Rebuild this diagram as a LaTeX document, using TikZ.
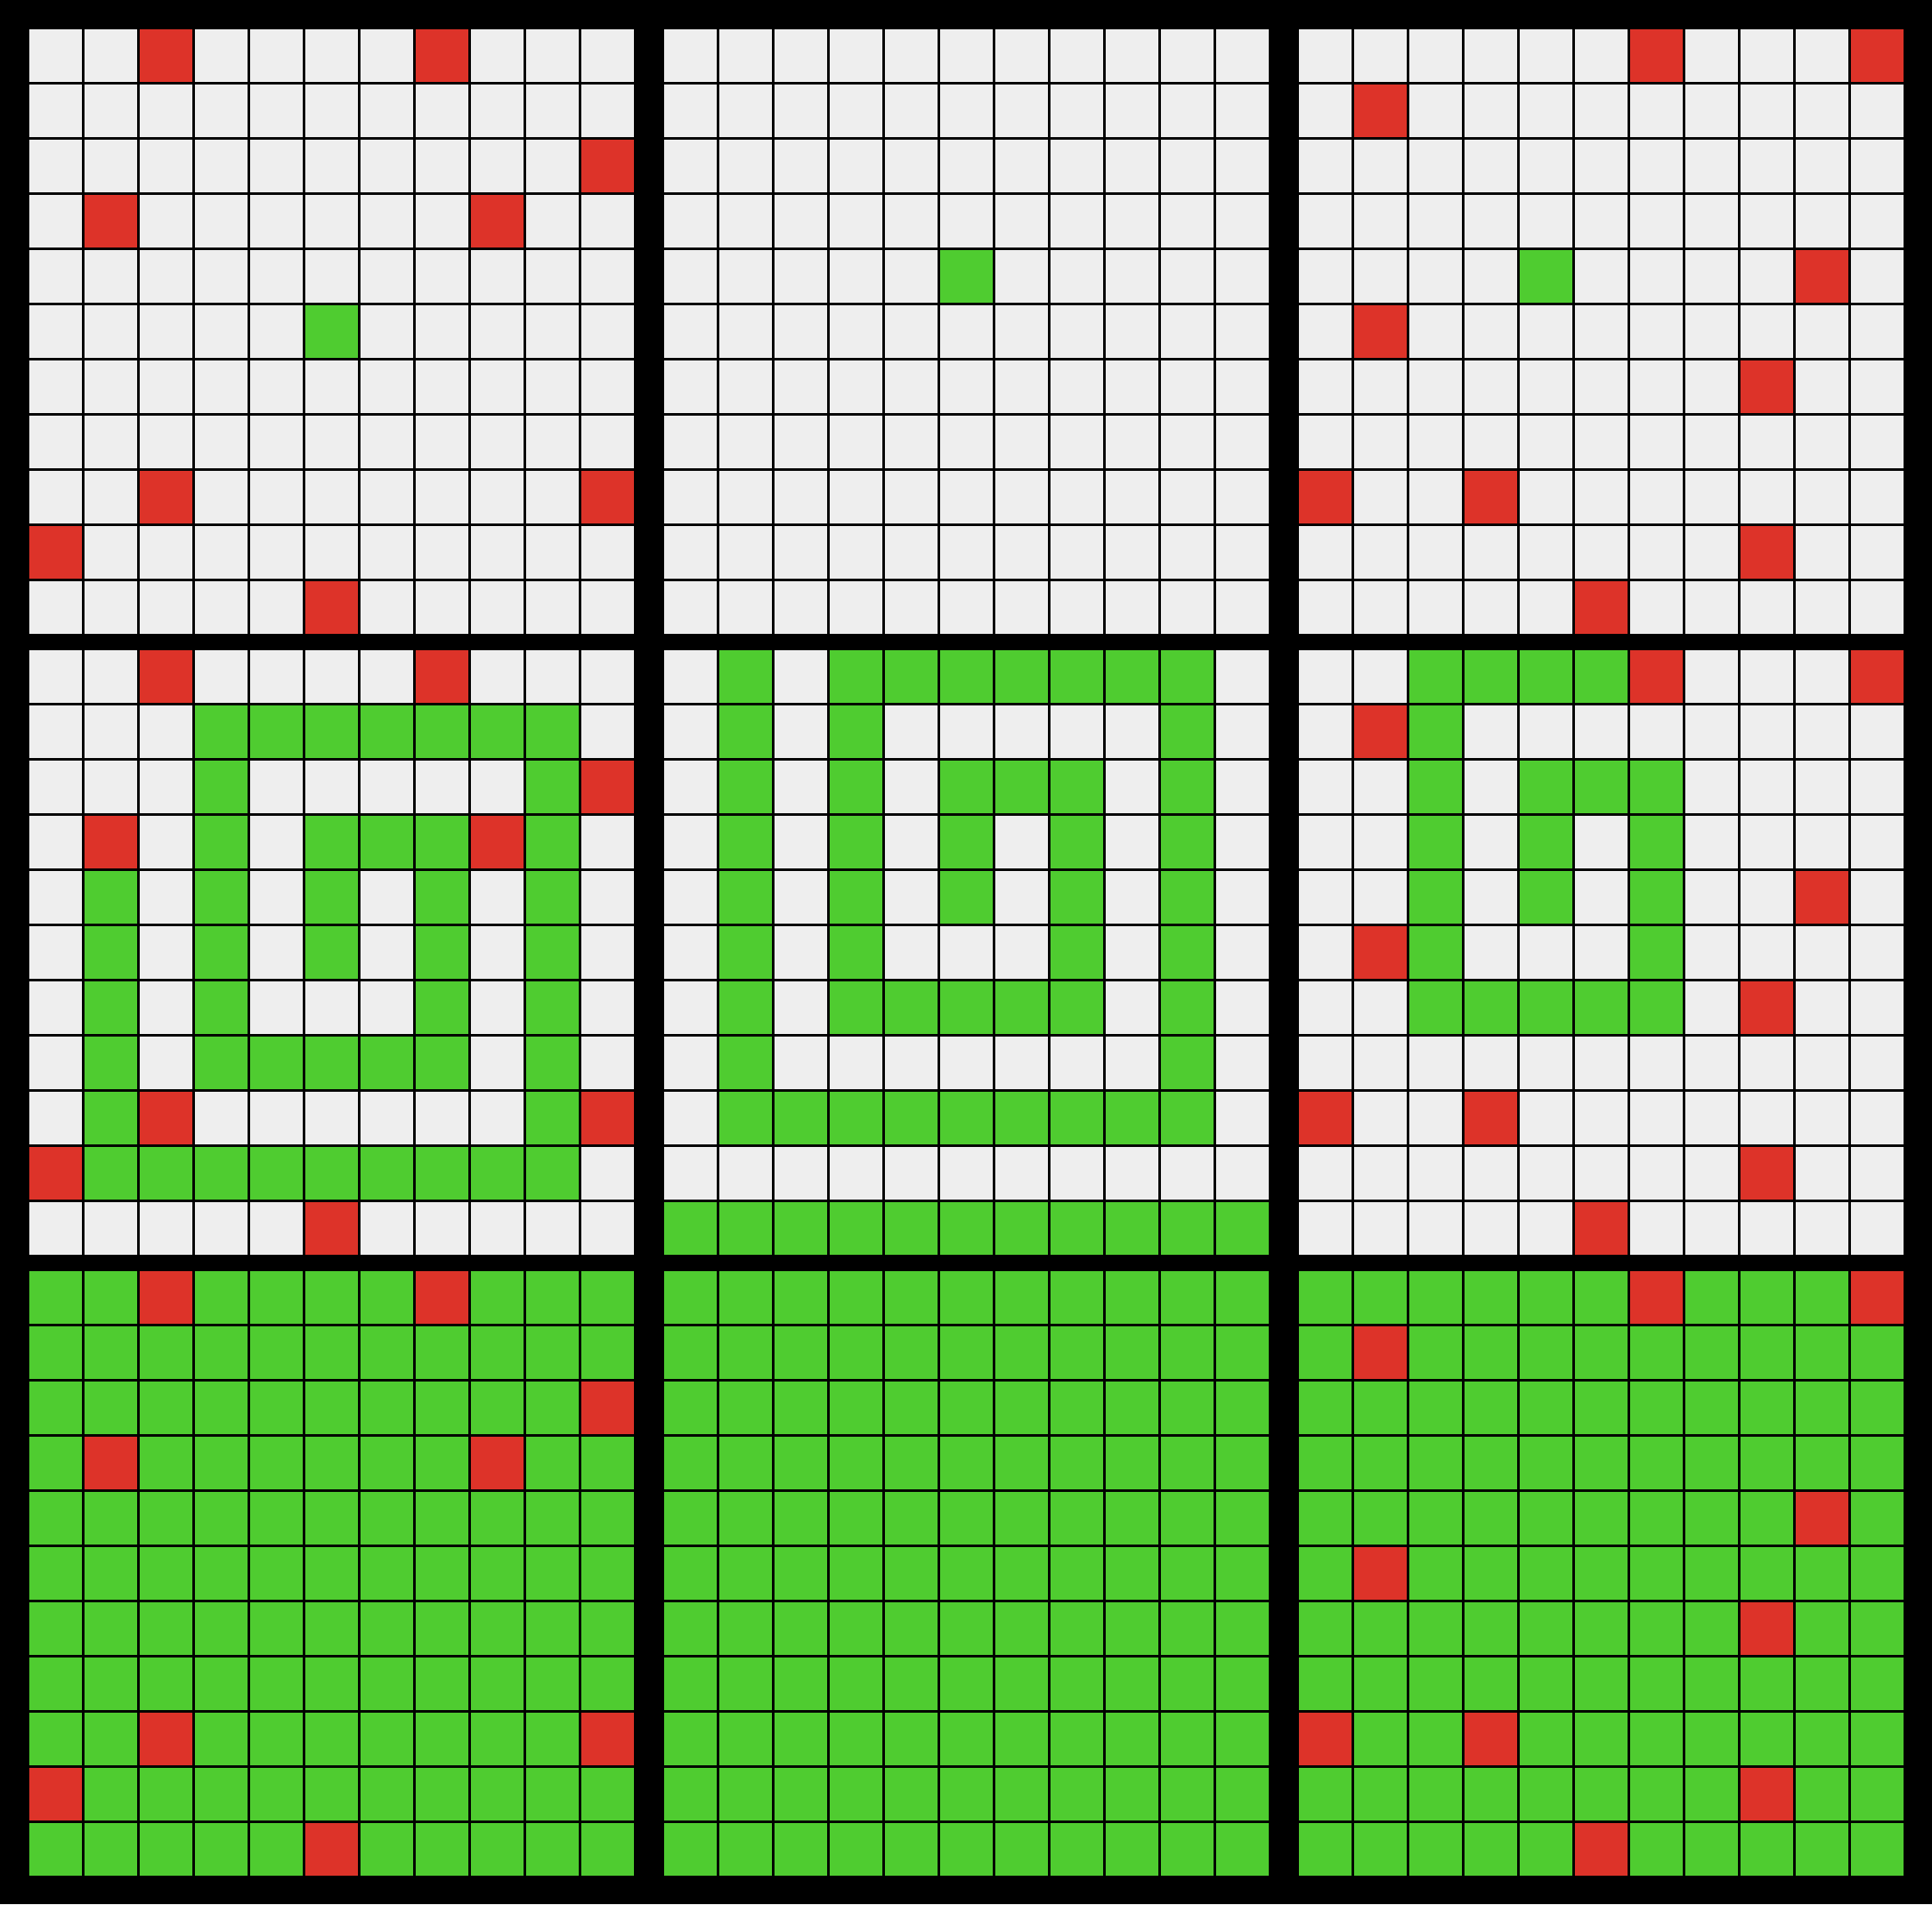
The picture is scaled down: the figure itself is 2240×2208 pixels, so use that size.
\documentclass[tikz,border=0pt]{standalone}
\definecolor{cgray}{HTML}{EEEEEE}
\definecolor{cgreen}{HTML}{4FCC30}
\definecolor{cred}{HTML}{DD3329}
\newcommand{\arcpanel}[4]{%
  \foreach \rw [count=\r from 0] in #4 {%
    \foreach \v [count=\c from 0] in \rw {%
      \ifcase\v\relax \def\cc{#3}\or \def\cc{cgreen}\or \def\cc{cred}\fi
      \fill[\cc] ({#1+64*\c},{#2+64*\r}) rectangle ++(61,61);
    }%
  }%
}
\def\PA{{0,0,2,0,0,0,0,2,0,0,0},{0,0,0,0,0,0,0,0,0,0,0},{0,0,0,0,0,0,0,0,0,0,2},{0,2,0,0,0,0,0,0,2,0,0},{0,0,0,0,0,0,0,0,0,0,0},{0,0,0,0,0,1,0,0,0,0,0},{0,0,0,0,0,0,0,0,0,0,0},{0,0,0,0,0,0,0,0,0,0,0},{0,0,2,0,0,0,0,0,0,0,2},{2,0,0,0,0,0,0,0,0,0,0},{0,0,0,0,0,2,0,0,0,0,0}}
\def\PB{{0,0,0,0,0,0,0,0,0,0,0},{0,0,0,0,0,0,0,0,0,0,0},{0,0,0,0,0,0,0,0,0,0,0},{0,0,0,0,0,0,0,0,0,0,0},{0,0,0,0,0,1,0,0,0,0,0},{0,0,0,0,0,0,0,0,0,0,0},{0,0,0,0,0,0,0,0,0,0,0},{0,0,0,0,0,0,0,0,0,0,0},{0,0,0,0,0,0,0,0,0,0,0},{0,0,0,0,0,0,0,0,0,0,0},{0,0,0,0,0,0,0,0,0,0,0}}
\def\PC{{0,0,0,0,0,0,2,0,0,0,2},{0,2,0,0,0,0,0,0,0,0,0},{0,0,0,0,0,0,0,0,0,0,0},{0,0,0,0,0,0,0,0,0,0,0},{0,0,0,0,1,0,0,0,0,2,0},{0,2,0,0,0,0,0,0,0,0,0},{0,0,0,0,0,0,0,0,2,0,0},{0,0,0,0,0,0,0,0,0,0,0},{2,0,0,2,0,0,0,0,0,0,0},{0,0,0,0,0,0,0,0,2,0,0},{0,0,0,0,0,2,0,0,0,0,0}}
\def\PD{{0,0,2,0,0,0,0,2,0,0,0},{0,0,0,1,1,1,1,1,1,1,0},{0,0,0,1,0,0,0,0,0,1,2},{0,2,0,1,0,1,1,1,2,1,0},{0,1,0,1,0,1,0,1,0,1,0},{0,1,0,1,0,1,0,1,0,1,0},{0,1,0,1,0,0,0,1,0,1,0},{0,1,0,1,1,1,1,1,0,1,0},{0,1,2,0,0,0,0,0,0,1,2},{2,1,1,1,1,1,1,1,1,1,0},{0,0,0,0,0,2,0,0,0,0,0}}
\def\PE{{0,1,0,1,1,1,1,1,1,1,0},{0,1,0,1,0,0,0,0,0,1,0},{0,1,0,1,0,1,1,1,0,1,0},{0,1,0,1,0,1,0,1,0,1,0},{0,1,0,1,0,1,0,1,0,1,0},{0,1,0,1,0,0,0,1,0,1,0},{0,1,0,1,1,1,1,1,0,1,0},{0,1,0,0,0,0,0,0,0,1,0},{0,1,1,1,1,1,1,1,1,1,0},{0,0,0,0,0,0,0,0,0,0,0},{1,1,1,1,1,1,1,1,1,1,1}}
\def\PF{{0,0,1,1,1,1,2,0,0,0,2},{0,2,1,0,0,0,0,0,0,0,0},{0,0,1,0,1,1,1,0,0,0,0},{0,0,1,0,1,0,1,0,0,0,0},{0,0,1,0,1,0,1,0,0,2,0},{0,2,1,0,0,0,1,0,0,0,0},{0,0,1,1,1,1,1,0,2,0,0},{0,0,0,0,0,0,0,0,0,0,0},{2,0,0,2,0,0,0,0,0,0,0},{0,0,0,0,0,0,0,0,2,0,0},{0,0,0,0,0,2,0,0,0,0,0}}
\begin{document}
\begin{tikzpicture}[x=1pt,y=-1pt]
  \fill[black] (0,0) rectangle (2240,2208);
  \useasboundingbox (0,0) rectangle (2240,2208);
  % row 1
  \arcpanel{34}{34}{cgray}{\PA}
  \arcpanel{770}{34}{cgray}{\PB}
  \arcpanel{1506}{34}{cgray}{\PC}
  % row 2
  \arcpanel{34}{754}{cgray}{\PD}
  \arcpanel{770}{754}{cgray}{\PE}
  \arcpanel{1506}{754}{cgray}{\PF}
  % row 3
  \arcpanel{34}{1474}{cgreen}{\PA}
  \arcpanel{770}{1474}{cgreen}{\PB}
  \arcpanel{1506}{1474}{cgreen}{\PC}
\end{tikzpicture}
\end{document}
